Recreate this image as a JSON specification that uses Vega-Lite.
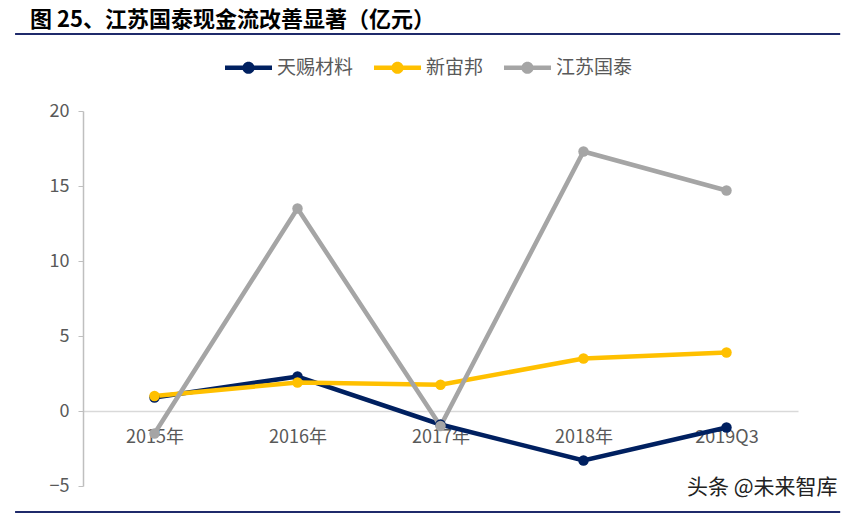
{
  "$schema": "https://vega.github.io/schema/vega-lite/v6.json",
  "width": 715,
  "height": 375,
  "autosize": {"type": "none"},
  "padding": {"left": 83, "top": 111, "right": 56, "bottom": 28},
  "background": "white",
  "config": {"view": {"stroke": null}, "font": "Noto Sans CJK SC"},
  "title": {
    "text": "图 25、江苏国泰现金流改善显著（亿元）",
    "anchor": "start",
    "frame": "group",
    "dx": -53,
    "offset": 1,
    "font": "Noto Sans CJK SC",
    "fontWeight": "bold",
    "fontSize": 22,
    "color": "#000000"
  },
  "resolve": {"scale": {"x": "independent"}},
  "layer": [
    {
      "data": {
        "values": [
          {"year": "2015年", "series": "天赐材料", "value": 0.9},
          {"year": "2016年", "series": "天赐材料", "value": 2.3},
          {"year": "2017年", "series": "天赐材料", "value": -0.9},
          {"year": "2018年", "series": "天赐材料", "value": -3.3},
          {"year": "2019Q3", "series": "天赐材料", "value": -1.1},
          {"year": "2015年", "series": "新宙邦", "value": 1.0},
          {"year": "2016年", "series": "新宙邦", "value": 1.9},
          {"year": "2017年", "series": "新宙邦", "value": 1.75},
          {"year": "2018年", "series": "新宙邦", "value": 3.5},
          {"year": "2019Q3", "series": "新宙邦", "value": 3.9},
          {"year": "2015年", "series": "江苏国泰", "value": -1.5},
          {"year": "2016年", "series": "江苏国泰", "value": 13.5},
          {"year": "2017年", "series": "江苏国泰", "value": -1.0},
          {"year": "2018年", "series": "江苏国泰", "value": 17.3},
          {"year": "2019Q3", "series": "江苏国泰", "value": 14.7}
        ]
      },
      "mark": {"type": "line", "strokeWidth": 4.5, "point": {"size": 110, "filled": true}},
      "encoding": {
        "x": {
          "field": "year",
          "type": "nominal",
          "sort": null,
          "scale": {"type": "point", "padding": 0.5},
          "axis": {
            "orient": "bottom",
            "offset": -75,
            "title": null,
            "labelAngle": 0,
            "ticks": false,
            "domainColor": "#D9D9D9",
            "domainWidth": 1.5,
            "labelPadding": 17,
            "labelFontSize": 18,
            "labelColor": "#595959"
          }
        },
        "y": {
          "field": "value",
          "type": "quantitative",
          "scale": {"domain": [-5, 20], "nice": false, "zero": false},
          "axis": {
            "values": [-5, 0, 5, 10, 15, 20],
            "title": null,
            "grid": false,
            "domainColor": "#BFBFBF",
            "domainWidth": 1.5,
            "tickColor": "#BFBFBF",
            "tickSize": 5,
            "labelPadding": 9,
            "labelFontSize": 18,
            "labelColor": "#595959"
          }
        },
        "color": {
          "field": "series",
          "type": "nominal",
          "scale": {"domain": ["天赐材料", "新宙邦", "江苏国泰"], "range": ["#002060", "#FFC000", "#A5A5A5"]},
          "legend": {
            "title": null,
            "orient": "none",
            "direction": "horizontal",
            "legendX": 142,
            "legendY": -67,
            "symbolType": "M-1,-0.1L1,-0.1L1,0.1L-1,0.1Z M0.26,0A0.26,0.26 0 1,1 -0.26,0A0.26,0.26 0 1,1 0.26,0Z",
            "symbolSize": 2209,
            "symbolStrokeWidth": 0,
            "labelFontSize": 19,
            "labelColor": "#595959",
            "labelOffset": 5,
            "columnPadding": 20,
            "encode": {"symbols": {"update": {"fill": {"scale": "color", "field": "value"}, "opacity": {"value": 1}}}}
          }
        },
        "order": {"field": "year"}
      }
    },
    {
      "data": {"values": [{"pos": "top", "x1": -0.095, "x2": 1.059, "y": 25.13}, {"pos": "bottom", "x1": -0.095, "x2": 1.059, "y": -6.73}]},
      "layer": [
        {
          "mark": {"type": "rule", "color": "#1F2A6B", "strokeWidth": 2, "clip": false},
          "encoding": {
            "x": {"field": "x1", "type": "quantitative", "scale": {"domain": [0, 1], "nice": false, "zero": false}, "axis": null},
            "x2": {"field": "x2"},
            "y": {"field": "y", "type": "quantitative"}
          }
        },
        {
          "data": {"values": [{"label": "头条 @未来智库", "x": 0.95, "y": -5.1}]},
          "mark": {"type": "text", "fontSize": 21, "color": "#222222", "align": "center", "baseline": "middle", "clip": false},
          "encoding": {
            "x": {"field": "x", "type": "quantitative", "scale": {"domain": [0, 1], "nice": false, "zero": false}, "axis": null},
            "y": {"field": "y", "type": "quantitative"},
            "text": {"field": "label"}
          }
        }
      ]
    }
  ]
}
